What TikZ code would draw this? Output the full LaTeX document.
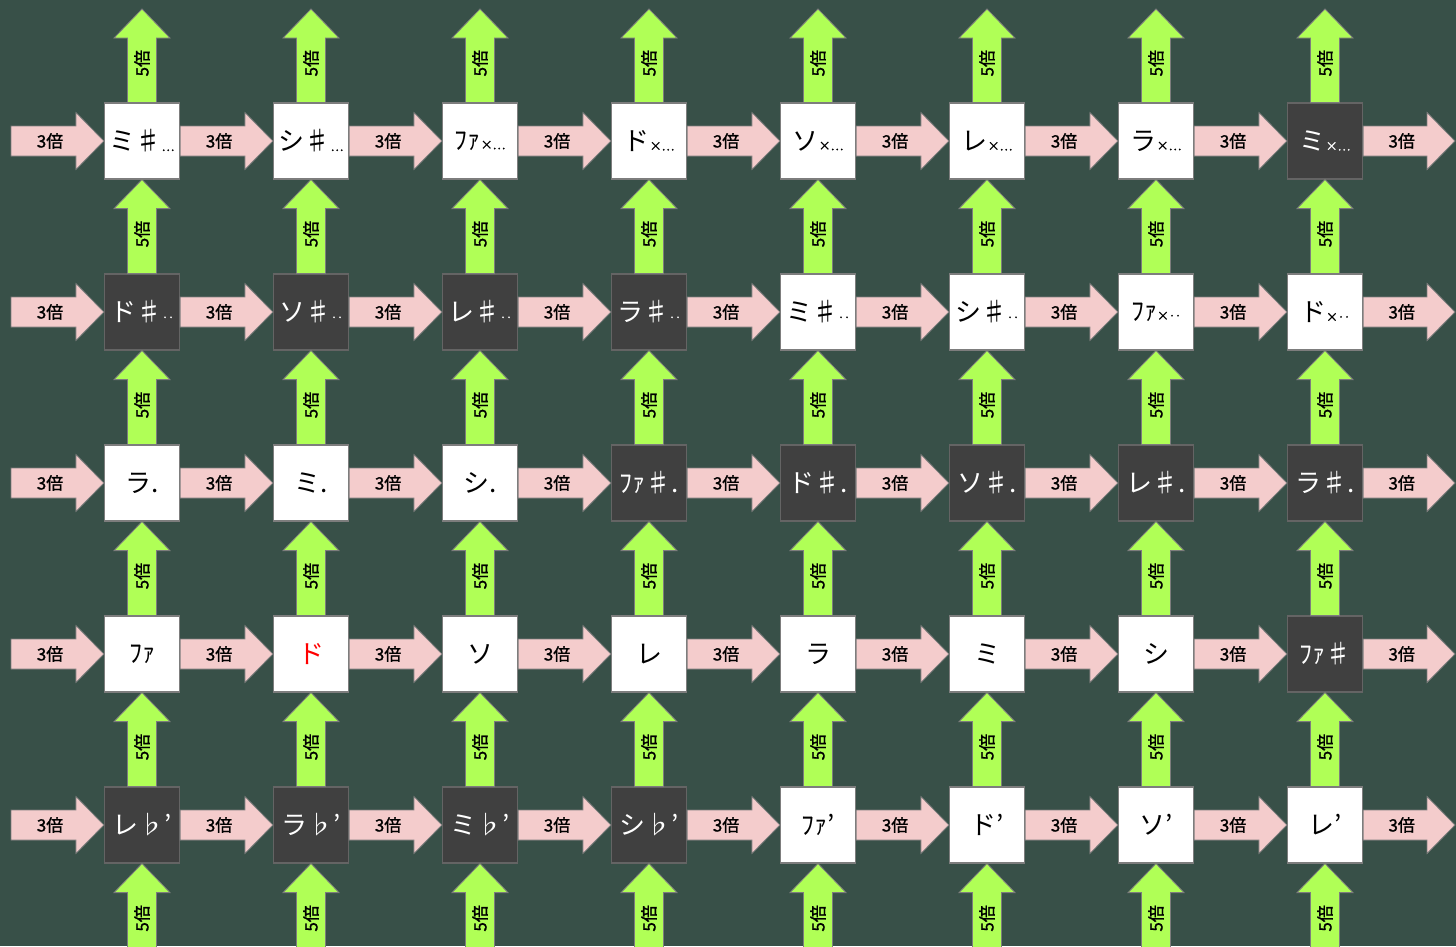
\documentclass[tikz,border=0pt]{standalone}
\usepackage{fontspec}
\setmainfont{Noto Sans CJK JP}
\newfontfamily\ratiofont[FakeBold=1.2]{Noto Sans CJK JP}
\usetikzlibrary{calc}
\definecolor{boardgreen}{RGB}{56,80,72}
\definecolor{keydark}{RGB}{64,64,64}
\definecolor{thirdpink}{RGB}{244,204,204}
\definecolor{fifthgreen}{RGB}{176,255,86}
\definecolor{edgegray}{RGB}{125,125,125}

\tikzset{
  lightbox/.style={draw=edgegray, line width=1.2pt, fill=white, text=black, minimum width=75, minimum height=76, inner sep=0pt, font=\fontsize{26}{26}\selectfont},
  darkbox/.style={lightbox, fill=keydark, draw=edgegray!80!black, text=white},
  thirdstyle/.style={draw=edgegray, line width=0.8pt, fill=thirdpink},
  fifthstyle/.style={draw=edgegray, line width=0.8pt, fill=fifthgreen},
  ratio/.style={inner sep=0pt, text=black, font=\ratiofont\fontsize{17}{17}\selectfont}
}

% small octave marks after a note name
\newcommand{\oct}[1]{{\ratiofont\fontsize{12}{12}\selectfont #1}}

% block arrows: tail, tip
\newcommand{\thirdarrow}[2]{%
  \draw[thirdstyle] ($(#1)+(0,-15)$) -- ($(#2)+(-28,-15)$) -- ($(#2)+(-28,-28.5)$) -- (#2) -- ($(#2)+(-28,28.5)$) -- ($(#2)+(-28,15)$) -- ($(#1)+(0,15)$) -- cycle;
  \path (#1) -- (#2) node[ratio, pos=0.42] {3倍};}
\newcommand{\fiftharrow}[2]{%
  \draw[fifthstyle] ($(#1)+(-14.5,0)$) -- ($(#2)+(-14.5,29)$) -- ($(#2)+(-28,29)$) -- (#2) -- ($(#2)+(28,29)$) -- ($(#2)+(14.5,29)$) -- ($(#1)+(14.5,0)$) -- cycle;
  \path (#1) -- (#2) node[ratio, pos=0.42, rotate=90] {5倍};}

\begin{document}
\begin{tikzpicture}[x=1pt, y=-1pt]
  \fill[boardgreen] (0,0) rectangle (1456,946);
  \clip (0,0) rectangle (1456,946);

  % note boxes
  \foreach \c/\t/\s in {1/{ミ♯\oct{…}}/lightbox, 2/{シ♯\oct{…}}/lightbox, 3/{ﾌｧ\oct{×…}}/lightbox, 4/{ド\oct{×…}}/lightbox, 5/{ソ\oct{×…}}/lightbox, 6/{レ\oct{×…}}/lightbox, 7/{ラ\oct{×…}}/lightbox, 8/{ミ\oct{×…}}/darkbox}
    \node[\s] (b1\c) at ({142+169*(\c-1)},141) {\t};
  \foreach \c/\t/\s in {1/{ド♯\oct{‥}}/darkbox, 2/{ソ♯\oct{‥}}/darkbox, 3/{レ♯\oct{‥}}/darkbox, 4/{ラ♯\oct{‥}}/darkbox, 5/{ミ♯\oct{‥}}/lightbox, 6/{シ♯\oct{‥}}/lightbox, 7/{ﾌｧ\oct{×‥}}/lightbox, 8/{ド\oct{×‥}}/lightbox}
    \node[\s] (b2\c) at ({142+169*(\c-1)},312) {\t};
  \foreach \c/\t/\s in {1/{ラ.}/lightbox, 2/{ミ.}/lightbox, 3/{シ.}/lightbox, 4/{ﾌｧ♯.}/darkbox, 5/{ド♯.}/darkbox, 6/{ソ♯.}/darkbox, 7/{レ♯.}/darkbox, 8/{ラ♯.}/darkbox}
    \node[\s] (b3\c) at ({142+169*(\c-1)},483) {\t};
  \foreach \c/\t/\s in {1/{ﾌｧ}/lightbox, 2/{\textcolor{red}{ド}}/lightbox, 3/{ソ}/lightbox, 4/{レ}/lightbox, 5/{ラ}/lightbox, 6/{ミ}/lightbox, 7/{シ}/lightbox, 8/{ﾌｧ♯}/darkbox}
    \node[\s] (b4\c) at ({142+169*(\c-1)},654) {\t};
  \foreach \c/\t/\s in {1/{レ♭’}/darkbox, 2/{ラ♭’}/darkbox, 3/{ミ♭’}/darkbox, 4/{シ♭’}/darkbox, 5/{ﾌｧ’}/lightbox, 6/{ド’}/lightbox, 7/{ソ’}/lightbox, 8/{レ’}/lightbox}
    \node[\s] (b5\c) at ({142+169*(\c-1)},825) {\t};

  % free ends of the outer arrows
  \foreach \r/\y in {1/141, 2/312, 3/483, 4/654, 5/825} {
    \coordinate (w\r) at (11,\y);
    \coordinate (e\r) at (1455,\y);
  }
  \foreach \c in {1,...,8} {
    \coordinate (n\c) at ({142+169*(\c-1)},9);
    \coordinate (s\c) at ({142+169*(\c-1)},958);
  }

  % 3x to the right
  \foreach \r in {1,...,5} {
    \thirdarrow{w\r}{b\r1.west}
    \foreach \c [count=\n from 2] in {1,...,7} {\thirdarrow{b\r\c.east}{b\r\n.west}}
    \thirdarrow{b\r8.east}{e\r}
  }
  % 5x upwards
  \foreach \c in {1,...,8} {
    \fiftharrow{b1\c.north}{n\c}
    \foreach \r [count=\n from 2] in {1,...,4} {\fiftharrow{b\n\c.north}{b\r\c.south}}
    \fiftharrow{s\c}{b5\c.south}
  }
\end{tikzpicture}
\end{document}
